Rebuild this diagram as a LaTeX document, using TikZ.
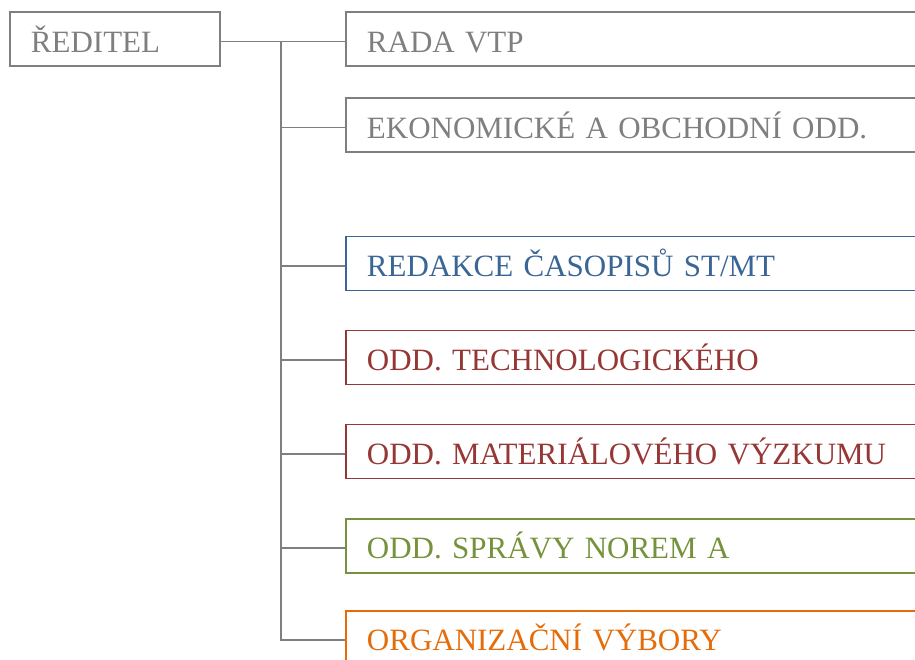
\documentclass[tikz,border=0pt]{standalone}
\usepackage{fontspec}
\setmainfont{Liberation Serif}
\usetikzlibrary{positioning}
\definecolor{ggray}{HTML}{7F7F7F}
\definecolor{gblue}{HTML}{3A6597}
\definecolor{gred}{HTML}{953735}
\definecolor{ggreen}{HTML}{76923C}
\definecolor{gorange}{HTML}{E46C0A}

\tikzset{
  unit/.style={draw=#1, text=#1, line width=1.9pt, anchor=west, align=left,
    inner xsep=21pt, inner ysep=0pt, text height=40pt, text depth=14pt,
    font=\fontsize{31}{36}\selectfont},
  unit/.default=ggray,
  wide/.style={text width=600pt},
  link/.style={draw=ggray, line width=1.9pt}
}

\begin{document}
\begin{tikzpicture}[x=1pt,y=-1pt]
\clip (0,0) rectangle (915,659);
\node[unit, text width=168pt] (dir) at (9,39.3) {ŘEDITEL};
\node[unit, wide] (rada) at (345,39.3) {RADA VTP};
\node[unit, wide] (ekon) at (345,125.3) {EKONOMICKÉ A OBCHODNÍ ODD.};
\node[unit=gblue, wide] (red) at (345,263.5) {REDAKCE ČASOPISŮ ST/MT};
\node[unit=gred, wide] (tech) at (345,357.5) {ODD. TECHNOLOGICKÉHO};
\node[unit=gred, wide] (mat) at (345,451.5) {ODD. MATERIÁLOVÉHO VÝZKUMU};
\node[unit=ggreen, wide] (spr) at (345,545.7) {ODD. SPRÁVY NOREM A};
\node[unit=gorange, wide] (org) at (345,637.7) {ORGANIZAČNÍ VÝBORY};
% trunk and branches
\coordinate (top) at (281,41.5);
\draw[link] ([yshift=-2.2pt]dir.east) -- ([yshift=-2.2pt]rada.west);
\draw[link] (top) |- ([yshift=-2.2pt]org.west);
\foreach \n in {ekon,red,tech,mat,spr}
  \draw[link] ([yshift=-2.2pt]top |- \n.west) -- ([yshift=-2.2pt]\n.west);
\end{tikzpicture}
\end{document}
